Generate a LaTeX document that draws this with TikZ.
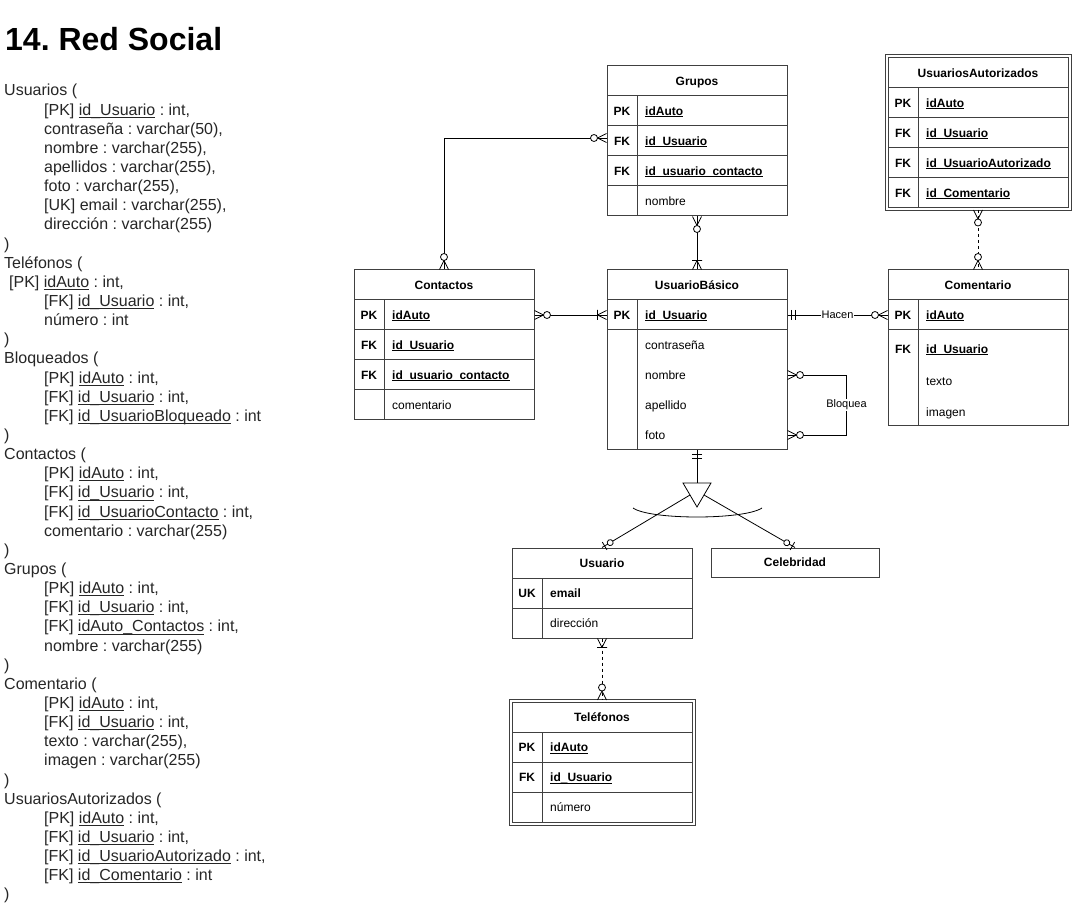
\documentclass[tikz,border=0pt]{standalone}
\usepackage{fontspec}
\setmainfont{Liberation Sans}
\usetikzlibrary{decorations.markings}
\frenchspacing
\newcommand\und[1]{\setbox0=\hbox{#1}\rlap{\vrule width\wd0 height -0.1em depth 0.165em}\box0\relax}
\newcommand\ukey[1]{\und{\bfseries #1}}
\tikzset{
  pics/zmany/.style={code={
    \draw[solid] (9,0) -- (0,-4.5) (9,0) -- (0,4.5);
    \draw[solid,fill=white] (12.5,0) circle[radius=3.5];}},
  pics/omany/.style={code={
    \draw[solid] (9,0) -- (0,-4.5) (9,0) -- (0,4.5) (9,-5) -- (9,5);}},
  pics/mone/.style={code={
    \draw[solid] (4,-5) -- (4,5) (8,-5) -- (8,5);}},
  pics/zone/.style={code={
    \draw[solid] (3,-4.5) -- (3,4.5);
    \draw[solid,fill=white] (9.5,0) circle[radius=3];}},
  startmark/.style={postaction={decorate,decoration={markings,mark=at position 0 with {\pic[transform shape]{#1};}}}},
  endmark/.style={postaction={decorate,decoration={markings,mark=at position 1 with {\pic[transform shape,xscale=-1]{#1};}}}},
}
\begin{document}
\begin{tikzpicture}[x=1pt,y=-1pt,
  tbl/.style={draw=black!75,line width=1pt,inner sep=0pt,minimum width=180pt},
  dbl/.style={tbl,double,double distance=2pt,minimum width=183pt},
  tline/.style={draw=black!75,line width=1pt},
  ttl/.style={font=\fontsize{12}{14}\selectfont\bfseries,inner sep=0pt,text height=8.6pt,text depth=0pt},
  keyc/.style={font=\fontsize{12}{14}\selectfont\bfseries,inner sep=0pt,text height=8.6pt,text depth=0pt},
  fld/.style={anchor=west,font=\fontsize{12}{14}\selectfont,inner sep=0pt,text height=8.6pt,text depth=0pt},
  conn/.style={line width=0.8pt},
  dsh/.style={conn,dash pattern=on 3pt off 3pt},
  lbl/.style={fill=white,font=\fontsize{11}{13}\selectfont,inner sep=1pt},
  sch/.style={anchor=base west,inner sep=0pt,text=black!85,font=\fontsize{16}{19}\selectfont}]
\fill[white] (0,0) rectangle (1072,917);
\useasboundingbox (0,0) rectangle (1072,917);

% schema text
\node[anchor=base west,inner sep=0pt,font=\fontsize{32}{38}\selectfont\bfseries] (head) at (5,51) {14. Red Social};
\foreach \ind/\txt [count=\i] in {4/{Usuarios (}, 44/{[PK] \und{id\_Usuario} : int,}, 44/{contraseña : varchar(50),},
  44/{nombre : varchar(255),}, 44/{apellidos : varchar(255),}, 44/{foto : varchar(255),},
  44/{[UK] email : varchar(255),}, 44/{dirección : varchar(255)}, 4/{)},
  4/{Teléfonos (}, 9/{[PK] \und{idAuto} : int,}, 44/{[FK] \und{id\_Usuario} : int,}, 44/{número : int}, 4/{)},
  4/{Bloqueados (}, 44/{[PK] \und{idAuto} : int,}, 44/{[FK] \und{id\_Usuario} : int,}, 44/{[FK] \und{id\_UsuarioBloqueado} : int}, 4/{)},
  4/{Contactos (}, 44/{[PK] \und{idAuto} : int,}, 44/{[FK] \und{id\_Usuario} : int,}, 44/{[FK] \und{id\_UsuarioContacto} : int,}, 44/{comentario : varchar(255)}, 4/{)},
  4/{Grupos (}, 44/{[PK] \und{idAuto} : int,}, 44/{[FK] \und{id\_Usuario} : int,}, 44/{[FK] \und{idAuto\_Contactos} : int,}, 44/{nombre : varchar(255)}, 4/{)},
  4/{Comentario (}, 44/{[PK] \und{idAuto} : int,}, 44/{[FK] \und{id\_Usuario} : int,}, 44/{texto : varchar(255),}, 44/{imagen : varchar(255)}, 4/{)},
  4/{UsuariosAutorizados (}, 44/{[PK] \und{idAuto} : int,}, 44/{[FK] \und{id\_Usuario} : int,}, 44/{[FK] \und{id\_UsuarioAutorizado} : int,}, 44/{[FK] \und{id\_Comentario} : int}, 4/{)}}
  \node[sch] (sch-\i) at (\ind,{96+19.14*(\i-1)}) {\txt};

% Grupos
\node[tbl,minimum height=150pt] (grp) at (697,141) {};
\node[ttl] at (697,81) {Grupos};
\draw[tline] (637,96) -- (637,216);
\foreach \pk/\fl [count=\i] in {PK/\ukey{idAuto}, FK/\ukey{id\_Usuario}, FK/\ukey{id\_usuario\_contacto}, {}/nombre} {
  \draw[tline] (607,66+30*\i) -- (787,66+30*\i);
  \node[keyc] at (622,81+30*\i) {\pk};
  \node[fld] (grp-\i) at (645,81+30*\i) {\fl};
}

% Contactos
\node[tbl,minimum height=150pt] (con) at (444,345) {};
\node[ttl] at (444,285) {Contactos};
\draw[tline] (384,300) -- (384,420);
\foreach \pk/\fl [count=\i] in {PK/\ukey{idAuto}, FK/\ukey{id\_Usuario}, FK/\ukey{id\_usuario\_contacto}, {}/comentario} {
  \draw[tline] (354,270+30*\i) -- (534,270+30*\i);
  \node[keyc] at (369,285+30*\i) {\pk};
  \node[fld] (con-\i) at (392,285+30*\i) {\fl};
}

% UsuarioBasico
\node[tbl,minimum height=180pt] (ub) at (697,360) {};
\node[ttl] at (697,285) {UsuarioBásico};
\draw[tline] (607,300) -- (787,300) (607,330) -- (787,330) (637,300) -- (637,450);
\node[keyc] at (622,315) {PK};
\foreach \fl [count=\i] in {\ukey{id\_Usuario}, contraseña, nombre, apellido, foto}
  \node[fld] (ub-\i) at (645,285+30*\i) {\fl};

% Comentario
\node[tbl,minimum height=156pt] (com) at (978,348) {};
\node[ttl] at (978,285) {Comentario};
\draw[tline] (888,300) -- (1068,300) (888,330) -- (1068,330) (918,300) -- (918,426);
\foreach \pk/\fl/\y [count=\i] in {PK/\ukey{idAuto}/315, FK/\ukey{id\_Usuario}/349, {}/texto/381, {}/imagen/412} {
  \node[keyc] at (903,\y) {\pk};
  \node[fld] (com-\i) at (926,\y) {\fl};
}

% UsuariosAutorizados
\node[dbl,minimum height=153pt] (ua) at (978,133) {};
\node[ttl] at (978,73) {UsuariosAutorizados};
\draw[tline] (918,88) -- (918,208);
\foreach \pk/\fl [count=\i] in {PK/\ukey{idAuto}, FK/\ukey{id\_Usuario}, FK/\ukey{id\_UsuarioAutorizado}, FK/\ukey{id\_Comentario}} {
  \draw[tline] (888,58+30*\i) -- (1068,58+30*\i);
  \node[keyc] at (903,73+30*\i) {\pk};
  \node[fld] (ua-\i) at (926,73+30*\i) {\fl};
}

% Usuario / Celebridad
\node[tbl,minimum height=90pt] (usr) at (602,593) {};
\node[ttl] at (602,563) {Usuario};
\draw[tline] (512,578) -- (692,578) (512,608) -- (692,608) (542,578) -- (542,638);
\node[keyc] at (527,593) {UK};
\node[fld] (usr-1) at (550,593) {\bfseries email};
\node[fld] (usr-2) at (550,623) {dirección};
\node[tbl,ttl,minimum width=168pt,minimum height=29pt] (cel) at (795,562.5) {Celebridad};

% Telefonos
\node[dbl,minimum height=123pt] (tel) at (602,762) {};
\node[ttl] at (602,717) {Teléfonos};
\draw[tline] (542,732) -- (542,822);
\foreach \pk/\fl [count=\i] in {PK/\ukey{idAuto}, FK/\ukey{id\_Usuario}, {}/número} {
  \draw[tline] (512,702+30*\i) -- (692,702+30*\i);
  \node[keyc] at (527,717+30*\i) {\pk};
  \node[fld] (tel-\i) at (550,717+30*\i) {\fl};
}

% relations
\draw[conn,startmark=zmany,endmark=zmany] ([yshift=3pt]grp.west) -| (con.north);
\draw[conn,startmark=zmany,endmark=omany] (grp.south) -- (ub.north);
\draw[conn,startmark=zmany,endmark=omany] (con.east |- con-1) -- (ub.west |- con-1);
\draw[conn,startmark=mone,endmark=zmany] (ub.east |- ub-1) -- node[lbl] {Hacen} (com.west |- ub-1);
\draw[conn,startmark=zmany,endmark=zmany] (ub.east |- ub-3) -- ++(59,0) -- node[lbl] {Bloquea} ++(0,60) -- (ub.east |- ub-5);
\draw[dsh,startmark=zmany,endmark=zmany] (ua.south) -- (com.north);
\draw[dsh,startmark=omany,endmark=zmany] (usr.south) -- (tel.north);

% specialization
\coordinate (tri) at (697,483);
\coordinate (tri-l) at (690,495);
\coordinate (tri-r) at (704,495);
\draw[conn,startmark=mone] (ub.south) -- (tri);
\draw[conn] (683,483) -- (711,483) -- (697,507) -- cycle;
\draw[conn] (633,508) .. controls (650,520) and (744,520) .. (762,508);
\draw[conn,endmark=zone] (tri-l) -- (usr.north);
\draw[conn,endmark=zone] (tri-r) -- (cel.north);
\end{tikzpicture}
\end{document}
